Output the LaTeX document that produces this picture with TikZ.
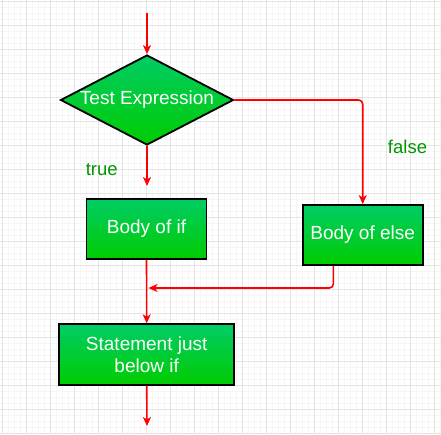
\documentclass[tikz,border=0pt]{standalone}
\usepackage{fontspec}
\setmainfont{Liberation Sans}
\usepackage{tikz}
\usetikzlibrary{arrows.meta,%
                shapes.geometric,positioning}

\definecolor{gridminor}{RGB}{246,246,246}
\definecolor{gridmajor}{RGB}{228,228,228}
\definecolor{boxtop}{RGB}{0,204,102}
\definecolor{boxbottom}{RGB}{0,204,0}
\definecolor{labelgreen}{RGB}{0,150,0}

\begin{document}
\begin{tikzpicture}[x=1pt,y=-1pt,
  block/.style={draw=black,line width=1.8pt,top color=boxtop,bottom color=boxbottom,
    text=white,font=\fontsize{19}{22.5}\selectfont,align=center,inner sep=0pt},
  decision/.style={block,diamond,aspect=1.92},
  flow/.style={draw=red,line width=1.6pt,-{Stealth[length=9pt,width=8pt,inset=2.5pt]}},
  branch/.style={text=labelgreen,font=\fontsize{18.5}{22}\selectfont}]
\useasboundingbox (0,0) rectangle (441,434);
% grid
\foreach \gx in {2,8,...,440} \draw[gridminor,line width=0.8pt] (\gx,0) -- (\gx,434);
\foreach \gy in {1,7,...,433} \draw[gridminor,line width=0.8pt] (0,\gy) -- (441,\gy);
\foreach \gx in {2,26,...,434} \draw[gridmajor,line width=0.8pt] (\gx,0) -- (\gx,434);
\foreach \gy in {1,25,...,433} \draw[gridmajor,line width=0.8pt] (0,\gy) -- (441,\gy);
% nodes
\node[decision,minimum width=173pt,minimum height=90pt] (test) at (147,100) {Test Expression};
\node[block,minimum width=120pt,minimum height=60pt] (ifbody) at (146.5,229) {Body of if};
\node[block,minimum width=120pt,minimum height=60pt] (elsebody) at (362.7,235) {Body of else};
\node[block,minimum width=175pt,minimum height=61pt] (stmt) at (146.7,354.7) {Statement just\\below if};
\node[branch] (truelbl) at (101.7,170) {true};
\node[branch] (falselbl) at (407.5,147) {false};
\coordinate (start) at (147,13);
\coordinate (ifin) at (147,186);
\coordinate (join) at (148.5,288);
\coordinate (finish) at (147,426);
% connectors
\draw[flow] (start) -- (test.north);
\draw[flow] (test.south) -- (ifin);
\draw[flow,rounded corners=4pt] (test.east) -| (elsebody.north);
\draw[flow,rounded corners=4pt] ([xshift=-29.4pt]elsebody.south) |- (join);
\draw[flow] (ifbody.south) -- (stmt.north);
\draw[flow] (stmt.south) -- (finish);
\end{tikzpicture}
\end{document}
